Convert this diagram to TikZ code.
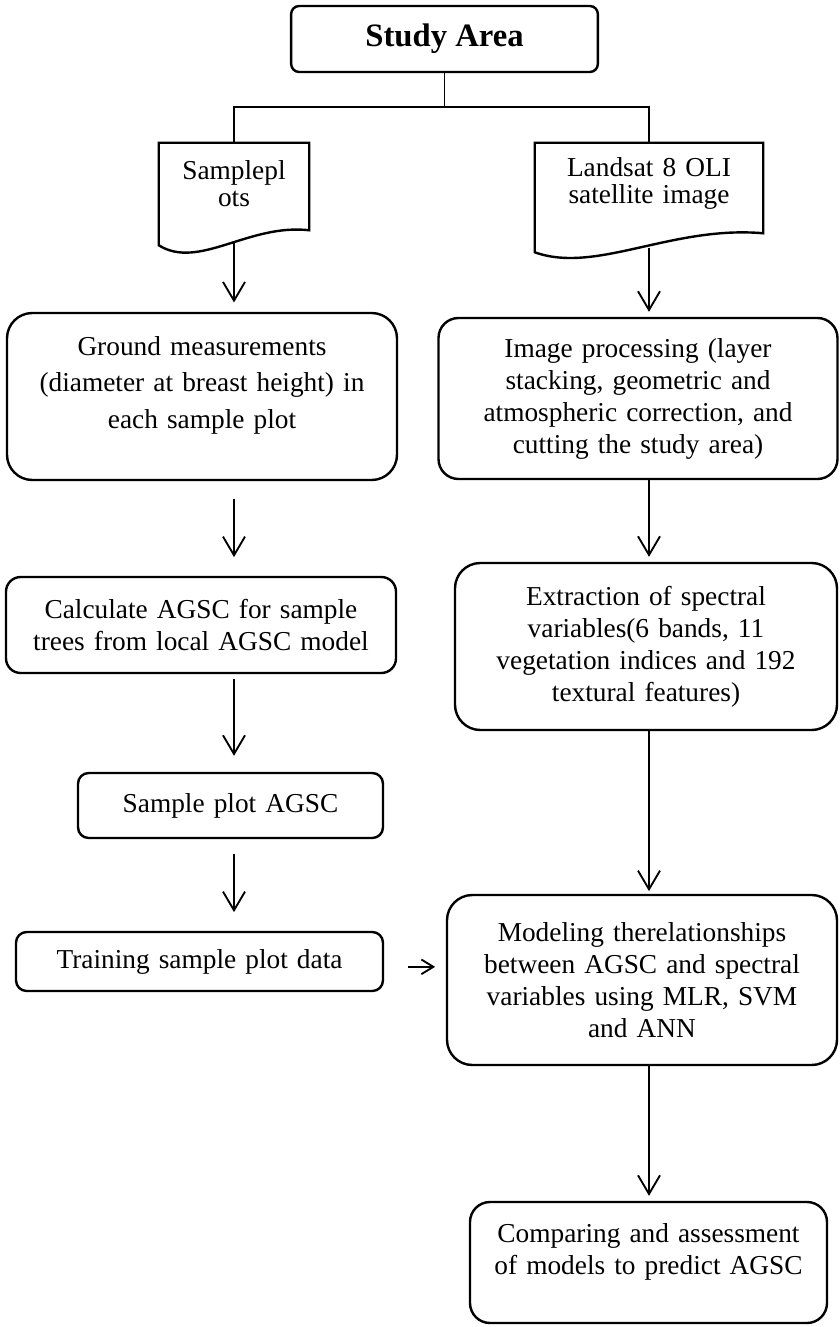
\documentclass[tikz,border=0pt]{standalone}
\usepackage{fontspec}
\setmainfont{Liberation Serif}
\usetikzlibrary{arrows.meta,calc}
\begin{document}
\begin{tikzpicture}[x=0.75pt,y=-0.75pt,>={Straight Barb[length=14pt,width=16.5pt]},
  box/.style={draw,line width=1.8pt,rounded corners=#1,align=center,inner sep=0pt,
    font=\fontsize{20.5}{24}\selectfont},
  box/.default=12pt,
  doc/.style={inner sep=0pt,align=center,font=\fontsize{20.5}{20.3}\selectfont},
  docline/.style={line width=1.8pt},
  arr/.style={->,line width=1.4pt}]
  \useasboundingbox (0,0) rectangle (839,1327);
  \node[box=6pt,minimum width=230pt,minimum height=49.5pt,font=\fontsize{24.5}{29}\selectfont\bfseries] (study) at (444.5,39) {Study Area};
  \node[doc,minimum width=112.5pt,minimum height=76.5pt,text width=110pt] (ldoc) at (234,194) {Samplepl\\ots\par\vspace{16pt}\hrule height 0pt};
  \node[doc,minimum width=171pt,minimum height=81.75pt,text width=168pt] (rdoc) at (649,197.5) {Landsat 8 OLI\\satellite image\par\vspace{21pt}\hrule height 0pt};
  \draw[docline] (ldoc.south west) -- (ldoc.north west) -- (ldoc.north east) -- ($(ldoc.south east)+(0,-15)$)
    .. controls ($(ldoc.south west)+(90,-22)$) and ($(ldoc.south west)+(40,25)$) .. (ldoc.south west) -- cycle;
  \draw[docline] (rdoc.south west) -- (rdoc.north west) -- (rdoc.north east) -- ($(rdoc.south east)+(0,-19)$)
    .. controls ($(rdoc.south west)+(137,-27)$) and ($(rdoc.south west)+(61,22)$) .. (rdoc.south west) -- cycle;
  \coordinate (split) at (444.5,107);
  \draw[line width=1.4pt] (study.south) -- (split) -| (ldoc.north);
  \draw[line width=1.4pt] (split) -| (rdoc.north);

  \node[box=19pt,minimum width=292.5pt,minimum height=125.25pt,text width=285pt,font=\fontsize{20.5}{27.5}\selectfont] (ground) at (202,396.5)
    {Ground measurements\\(diameter at breast height) in\\each sample plot\par\vspace{17pt}\hrule height 0pt};
  \node[box=11pt,minimum width=292.5pt,minimum height=72pt,text width=285pt] (calc) at (201,625)
    {Calculate AGSC for sample\\trees from local AGSC model};
  \node[box=8pt,minimum width=228.75pt,minimum height=48.75pt,text width=220pt] (sample) at (230.5,805.5) {Sample plot AGSC};
  \node[box=8pt,minimum width=275.25pt,minimum height=44.25pt,text width=268pt] (train) at (199.5,961.5) {Training sample plot data};

  \node[box=15pt,minimum width=299.25pt,minimum height=120.75pt,text width=290pt] (improc) at (638,398.5)
    {Image processing (layer\\stacking, geometric and\\atmospheric correction, and\\cutting the study area)};
  \node[box=19pt,minimum width=286.5pt,minimum height=125.25pt,text width=280pt] (extract) at (646,646.5)
    {Extraction of spectral\\variables(6 bands, 11\\vegetation indices and 192\\textural features)};
  \node[box=19pt,minimum width=292.5pt,minimum height=127.5pt,text width=285pt] (model) at (642,980)
    {Modeling therelationships\\between AGSC and spectral\\variables using MLR, SVM\\and ANN};
  \node[box=15pt,minimum width=267.75pt,minimum height=90.75pt,text width=260pt] (compare) at (648.5,1262.5)
    {Comparing and assessment\\of models to predict AGSC\par\vspace{15.75pt}\hrule height 0pt};

  \draw[arr,shorten <=-1.5pt,shorten >=7pt] (ldoc.south) -- (ground.north -| ldoc.south);
  \draw[arr,shorten <=13.5pt,shorten >=14pt] (ground.south -| ldoc.south) -- (calc.north -| ldoc.south);
  \draw[arr,shorten <=3.75pt,shorten >=12pt] (calc.south -| ldoc.south) -- (sample.north -| ldoc.south);
  \draw[arr,shorten <=11pt,shorten >=14pt] (sample.south -| ldoc.south) -- (train.north -| ldoc.south);
  \draw[line width=1.4pt,-{Straight Barb[length=9pt,width=11pt]},shorten <=18pt,shorten >=8pt]
    ([yshift=-4pt]train.east) -- ([yshift=-4pt]train.east -| model.west);
  \draw[arr,shorten <=-3.5pt,shorten >=3.75pt] (rdoc.south) -- (improc.north -| rdoc.south);
  \draw[arr,shorten >=3.75pt] (improc.south -| rdoc.south) -- (extract.north -| rdoc.south);
  \draw[arr,shorten >=2pt] (extract.south -| rdoc.south) -- (model.north -| rdoc.south);
  \draw[arr,shorten >=3.75pt] (model.south -| rdoc.south) -- (compare.north -| rdoc.south);
\end{tikzpicture}
\end{document}
